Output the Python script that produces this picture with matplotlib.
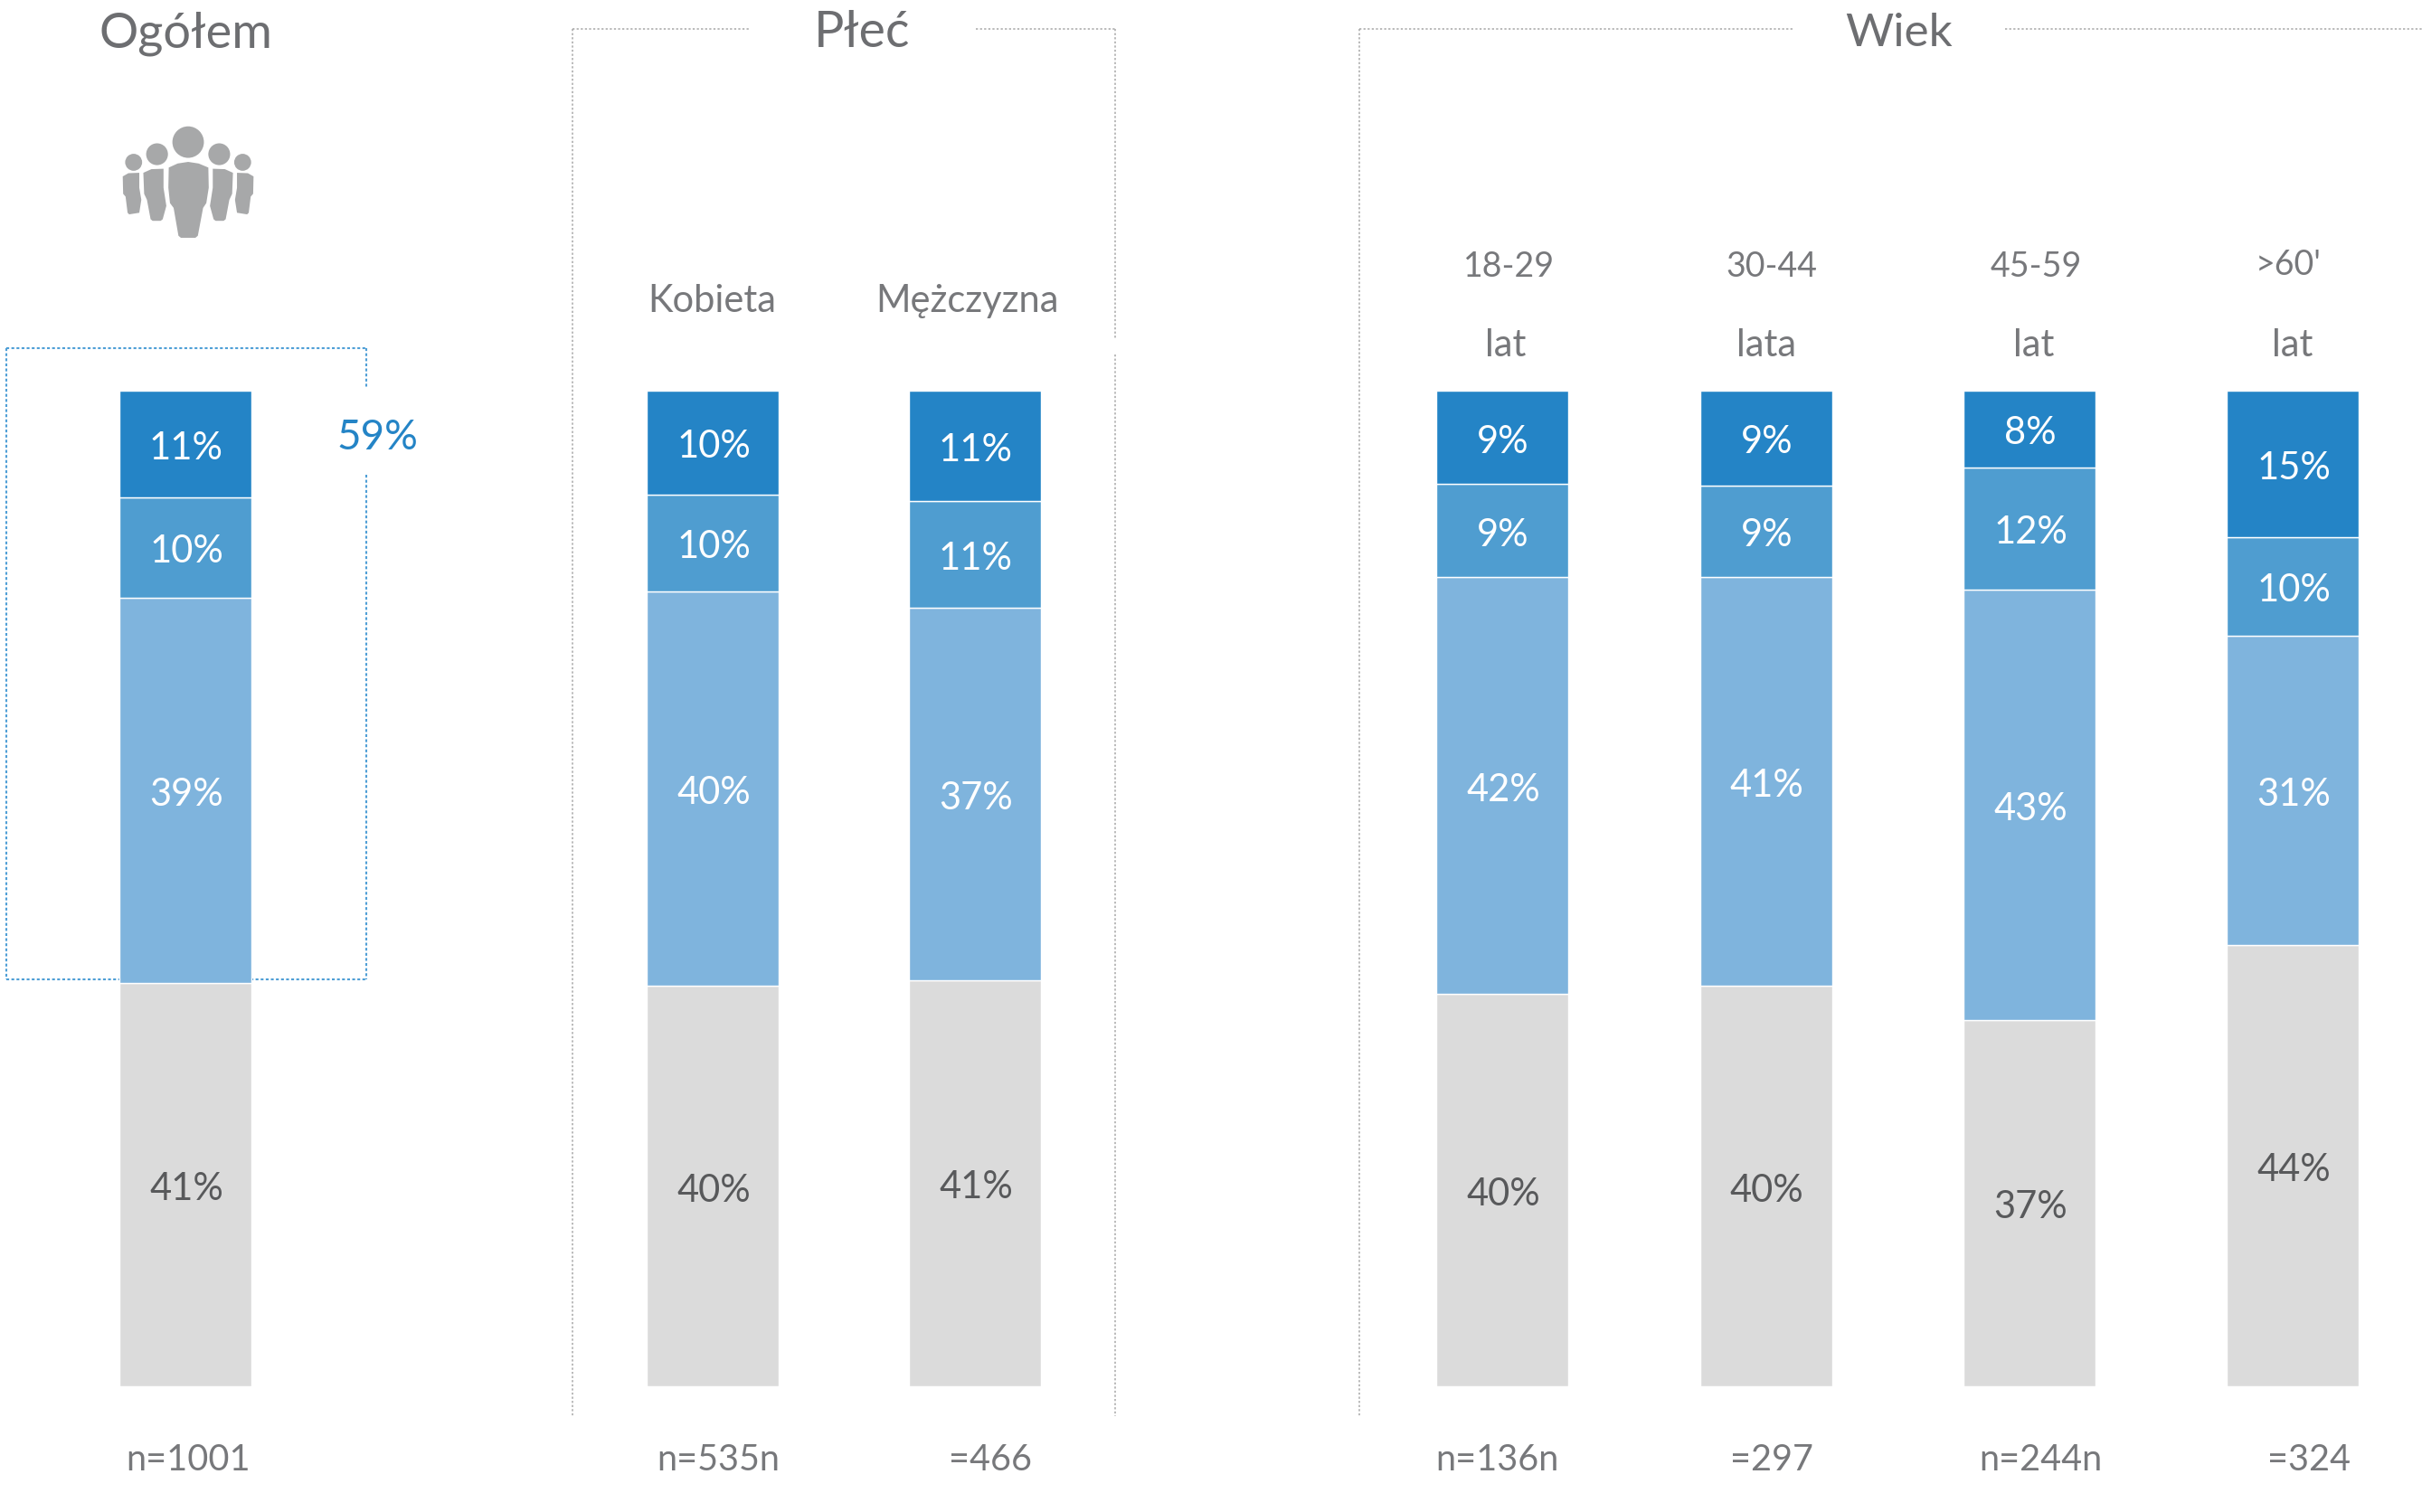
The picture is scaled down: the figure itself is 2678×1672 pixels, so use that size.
import matplotlib
matplotlib.use("Agg")
import matplotlib.pyplot as plt
from matplotlib.patches import Circle, Polygon

W, H = 2678, 1672
DPI = 100

# ---- data -------------------------------------------------------------
groups = ["Ogółem", "Kobieta", "Mężczyzna", "18-29", "30-44", "45-59", ">60"]
neg = [40.5, 40.2, 40.8, 39.4, 40.2, 36.8, 44.3]
low = [38.7, 39.6, 37.4, 41.9, 41.1, 43.2, 31.1]
mid = [10.1, 9.8, 10.7, 9.3, 9.2, 12.3, 9.9]
top = [10.7, 10.4, 11.1, 9.4, 9.5, 7.7, 14.7]
neg_labels = ["41%", "40%", "41%", "40%", "40%", "37%", "44%"]
low_labels = ["39%", "40%", "37%", "42%", "41%", "43%", "31%"]
mid_labels = ["10%", "10%", "11%", "9%", "9%", "12%", "10%"]
top_labels = ["11%", "10%", "11%", "9%", "9%", "8%", "15%"]
section_titles = ["Ogółem", "Płeć", "Wiek"]
total_label = "59%"
sub_labels = ["Kobieta", "Mężczyzna", "18-29", "30-44", "45-59", ">60'", "lat", "lata", "lat", "lat"]
n_labels = ["n=1001", "n=535n", "=466", "n=136n", "=297", "n=244n", "=324"]

# ---- style -------------------------------------------------------------
C_TOP, C_MID, C_LOW, C_NEG = "#2484c6", "#4f9dd0", "#7fb4dd", "#dbdbdb"
C_TXT = "#77787b"
C_DARK = "#58595b"
C_ICON = "#a7a8a9"
FONT = dict(family="Lato", weight="normal")

fig = plt.figure(figsize=(W / DPI, H / DPI), dpi=DPI, facecolor="white")

# overlay in pixel coordinates for frames, icon and text
ov = fig.add_axes([0, 0, 1, 1], zorder=1)
ov.set_xlim(0, W)
ov.set_ylim(H, 0)
ov.axis("off")

# bars: y axis is percent, spanning the bar block
BAR_TOP, BAR_BOT = 432, 1533
ax = fig.add_axes([0, 1 - BAR_BOT / H, 1, (BAR_BOT - BAR_TOP) / H], zorder=2)
ax.patch.set_alpha(0)
ax.set_xlim(0, W)
ax.set_ylim(0, 100)
ax.axis("off")

bar_x = [205, 788, 1078, 1661, 1952.5, 2244, 2535]
bar_w = 146

bottom = [0] * len(groups)
series = [(neg, C_NEG, neg_labels, C_DARK), (low, C_LOW, low_labels, "white"),
          (mid, C_MID, mid_labels, "white"), (top, C_TOP, top_labels, "white")]
for vals, col, labs, tcol in series:
    ax.bar(bar_x, vals, bar_w, bottom=bottom, color=col, edgecolor="white", linewidth=1.0)
    for x, b, v, lab in zip(bar_x, bottom, vals, labs):
        ax.text(x + 1, b + v / 2 - 0.45, lab, color=tcol, ha="center", va="center",
                fontsize=30, clip_on=False, **FONT)
    bottom = [b + v for b, v in zip(bottom, vals)]

# dotted frames
grey = dict(color="#a8a8a8", lw=1.1, ls=(0, (1.5, 1.5)))
Y0 = 32
ov.plot([633, 633], [Y0, 1566], **grey)
ov.plot([633, 829], [Y0, Y0], **grey)
ov.plot([1079, 1233], [Y0, Y0], **grey)
ov.plot([1233, 1233], [Y0, 374], **grey)
ov.plot([1233, 1233], [392, 1566], **grey)
ov.plot([1503, 1503], [Y0, 1566], **grey)
ov.plot([1503, 1984], [Y0, Y0], **grey)
ov.plot([2217, W], [Y0, Y0], **grey)

blue = dict(color="#4f9fd6", lw=1.5, ls=(0, (1.5, 1.2)))
ov.plot([7, 7], [385, 1083], **blue)
ov.plot([7, 405], [385, 385], **blue)
ov.plot([405, 405], [385, 428], **blue)
ov.plot([405, 405], [525, 1083], **blue)
ov.plot([7, 405], [1083, 1083], **blue)

# section titles
for x, t, fs in zip([205, 953, 2100], section_titles, [39, 40, 37]):
    ov.text(x, 37, t, color="#6d6e71", ha="center", va="center", fontsize=fs, **FONT)
ov.text(417, 484, total_label, color=C_TOP, ha="center", va="center", fontsize=33, **FONT)

# sub labels
sub_pos = [(787, 333), (1069, 333), (1669, 295), (1959, 295), (2251, 295), (2530, 293),
           (1665, 382), (1953, 382), (2249, 382), (2535, 382)]
sub_fs = [30, 30, 27, 27, 27, 27, 30, 30, 30, 30]
for (x, y), t, fs in zip(sub_pos, sub_labels, sub_fs):
    ov.text(x, y, t, color=C_TXT, ha="center", va="center", fontsize=fs, **FONT)

# sample sizes
n_x = [208, 794, 1095, 1655, 1959, 2256, 2553]
for x, t in zip(n_x, n_labels):
    ov.text(x, 1614, t, color=C_TXT, ha="center", va="center", fontsize=28.5, **FONT)

# people icon (outline given in 2.24x zoom units)
def person(head, r, body):
    k = 1 / 2.24
    ov.add_patch(Circle((head[0] * k, head[1] * k), r * k, fc=C_ICON, ec="none"))
    pts = [(x * k, y * k) for x, y in body]
    ov.add_patch(Polygon(pts, closed=True, fc=C_ICON, ec="none"))

def mirrored(b):
    return [(932 - x, y) for x, y in b]

b_c = [(418, 415), (440, 405), (466, 401), (492, 405), (516, 415), (517, 465), (511, 503), (503, 515),
       (490, 584), (484, 589), (448, 589), (442, 584), (430, 515), (421, 503), (417, 465)]
b_2 = [(355, 428), (375, 419), (405, 418), (405, 465), (412, 510), (403, 543), (398, 547), (378, 547),
       (373, 543), (364, 495), (357, 480)]
b_1 = [(304, 437), (318, 429), (345, 428), (345, 465), (350, 495), (345, 527), (320, 531), (316, 527),
       (311, 487), (305, 480)]
person((466, 352), 39, b_c)
person((389, 382), 27, b_2)
person((543, 382), 27, mirrored(b_2))
person((331, 402), 21, b_1)
person((601, 402), 21, mirrored(b_1))

fig.savefig("out.png", dpi=DPI, facecolor="white")
